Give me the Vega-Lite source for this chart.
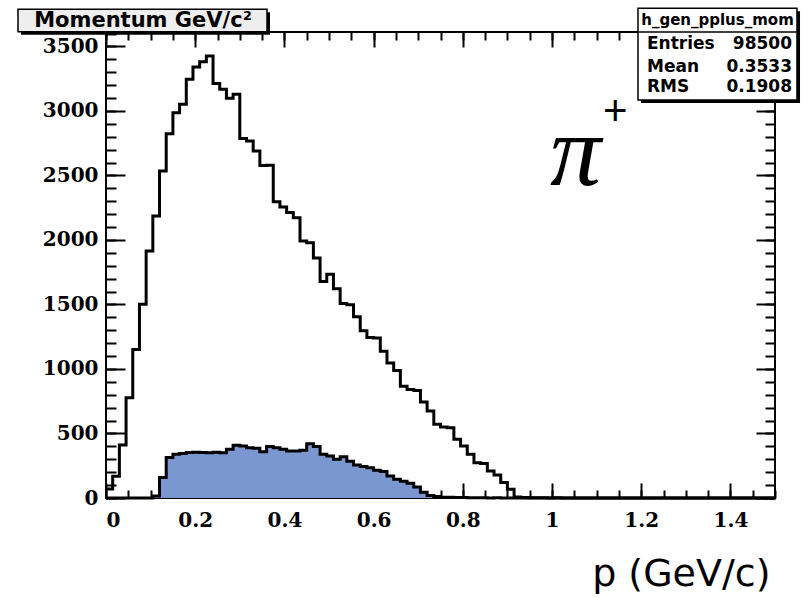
{
  "$schema": "https://vega.github.io/schema/vega-lite/v6.json",
  "autosize": "none",
  "width": 669,
  "height": 466,
  "padding": {"left": 106, "top": 32, "right": 28, "bottom": 100},
  "background": "white",
  "config": {
    "view": {"stroke": "black", "strokeWidth": 2},
    "axis": {
      "domain": false, "grid": false, "tickColor": "black", "tickWidth": 2,
      "labelFont": "DejaVu Serif", "labelFontWeight": "bold", "labelFontSize": 20, "labelColor": "black",
      "zindex": 1, "title": null
    }
  },
  "datasets": {
    "h": [
      {"lo": 0.000, "n": 70, "s": 0}, {"lo": 0.015, "n": 168, "s": 0}, {"lo": 0.030, "n": 410, "s": 0},
      {"lo": 0.045, "n": 778, "s": 0}, {"lo": 0.060, "n": 1152, "s": 0}, {"lo": 0.075, "n": 1501, "s": 0},
      {"lo": 0.090, "n": 1915, "s": 0}, {"lo": 0.105, "n": 2186, "s": 15}, {"lo": 0.120, "n": 2535, "s": 158},
      {"lo": 0.135, "n": 2824, "s": 313}, {"lo": 0.150, "n": 2987, "s": 339}, {"lo": 0.165, "n": 3052, "s": 345},
      {"lo": 0.180, "n": 3245, "s": 352}, {"lo": 0.195, "n": 3341, "s": 355}, {"lo": 0.210, "n": 3382, "s": 352},
      {"lo": 0.225, "n": 3426, "s": 350}, {"lo": 0.240, "n": 3212, "s": 355}, {"lo": 0.255, "n": 3168, "s": 351},
      {"lo": 0.270, "n": 3098, "s": 377}, {"lo": 0.285, "n": 3129, "s": 408}, {"lo": 0.300, "n": 2786, "s": 403},
      {"lo": 0.315, "n": 2767, "s": 390}, {"lo": 0.330, "n": 2690, "s": 385}, {"lo": 0.345, "n": 2577, "s": 359},
      {"lo": 0.360, "n": 2580, "s": 400}, {"lo": 0.375, "n": 2297, "s": 390}, {"lo": 0.390, "n": 2256, "s": 377},
      {"lo": 0.405, "n": 2212, "s": 364}, {"lo": 0.420, "n": 2173, "s": 364}, {"lo": 0.435, "n": 1992, "s": 370},
      {"lo": 0.450, "n": 1979, "s": 420}, {"lo": 0.465, "n": 1861, "s": 400}, {"lo": 0.480, "n": 1678, "s": 339},
      {"lo": 0.495, "n": 1735, "s": 325}, {"lo": 0.510, "n": 1622, "s": 300}, {"lo": 0.525, "n": 1508, "s": 320},
      {"lo": 0.540, "n": 1498, "s": 285}, {"lo": 0.555, "n": 1405, "s": 255}, {"lo": 0.570, "n": 1297, "s": 245},
      {"lo": 0.585, "n": 1245, "s": 235}, {"lo": 0.600, "n": 1240, "s": 215}, {"lo": 0.615, "n": 1137, "s": 205},
      {"lo": 0.630, "n": 1047, "s": 170}, {"lo": 0.645, "n": 988, "s": 145}, {"lo": 0.660, "n": 867, "s": 130},
      {"lo": 0.675, "n": 841, "s": 115}, {"lo": 0.690, "n": 833, "s": 85}, {"lo": 0.705, "n": 745, "s": 45},
      {"lo": 0.720, "n": 674, "s": 20}, {"lo": 0.735, "n": 571, "s": 12}, {"lo": 0.750, "n": 550, "s": 6},
      {"lo": 0.765, "n": 545, "s": 5}, {"lo": 0.780, "n": 455, "s": 4}, {"lo": 0.795, "n": 403, "s": 3},
      {"lo": 0.810, "n": 339, "s": 2}, {"lo": 0.825, "n": 274, "s": 2}, {"lo": 0.840, "n": 267, "s": 1},
      {"lo": 0.855, "n": 210, "s": 0}, {"lo": 0.870, "n": 179, "s": 1}, {"lo": 0.885, "n": 120, "s": 0},
      {"lo": 0.900, "n": 68, "s": 0}, {"lo": 0.915, "n": 8, "s": 0}, {"lo": 0.930, "n": 4, "s": 0},
      {"lo": 0.945, "n": 2, "s": 0}, {"lo": 0.960, "n": 1, "s": 0}, {"lo": 0.975, "n": 1, "s": 0},
      {"lo": 0.990, "n": 0, "s": 0}, {"lo": 1.005, "n": 1, "s": 0}, {"lo": 1.020, "n": 0, "s": 0},
      {"lo": 1.035, "n": 0, "s": 0}, {"lo": 1.050, "n": 0, "s": 0}, {"lo": 1.065, "n": 0, "s": 0},
      {"lo": 1.080, "n": 0, "s": 0}, {"lo": 1.095, "n": 0, "s": 0}, {"lo": 1.110, "n": 0, "s": 0},
      {"lo": 1.125, "n": 0, "s": 0}, {"lo": 1.140, "n": 0, "s": 0}, {"lo": 1.155, "n": 0, "s": 0},
      {"lo": 1.170, "n": 0, "s": 0}, {"lo": 1.185, "n": 0, "s": 0}, {"lo": 1.200, "n": 0, "s": 0},
      {"lo": 1.215, "n": 0, "s": 0}, {"lo": 1.230, "n": 0, "s": 0}, {"lo": 1.245, "n": 0, "s": 0},
      {"lo": 1.260, "n": 0, "s": 0}, {"lo": 1.275, "n": 0, "s": 0}, {"lo": 1.290, "n": 0, "s": 0},
      {"lo": 1.305, "n": 0, "s": 0}, {"lo": 1.320, "n": 0, "s": 0}, {"lo": 1.335, "n": 0, "s": 0},
      {"lo": 1.350, "n": 0, "s": 0}, {"lo": 1.365, "n": 0, "s": 0}, {"lo": 1.380, "n": 0, "s": 0},
      {"lo": 1.395, "n": 0, "s": 0}, {"lo": 1.410, "n": 0, "s": 0}, {"lo": 1.425, "n": 0, "s": 0},
      {"lo": 1.440, "n": 0, "s": 0}, {"lo": 1.455, "n": 0, "s": 0}, {"lo": 1.470, "n": 0, "s": 0},
      {"lo": 1.485, "n": 0, "s": 0}, {"lo": 1.500, "n": 0, "s": 0}
    ],
    "stats": [
      {"k": "Entries", "v": "98500", "row": 3517},
      {"k": "Mean", "v": "0.3533", "row": 3343},
      {"k": "RMS", "v": "0.1908", "row": 3183}
    ]
  },
  "resolve": {"axis": {"x": "independent", "y": "independent"}},
  "layer": [
    {
      "data": {"name": "h"},
      "mark": {"type": "area", "interpolate": "step-after", "color": "#7b97cf", "clip": false},
      "encoding": {
        "x": {"field": "lo", "type": "quantitative", "scale": {"domain": [0, 1.5], "nice": false, "zero": false},
              "axis": {"orient": "bottom", "values": [0,0.05,0.1,0.15,0.2,0.25,0.3,0.35,0.4,0.45,0.5,0.55,0.6,0.65,0.7,0.75,0.8,0.85,0.9,0.95,1,1.05,1.1,1.15,1.2,1.25,1.3,1.35,1.4,1.45,1.5], "labels": false, "tickSize": -8}},
        "y": {"field": "s", "type": "quantitative", "stack": null, "scale": {"domain": [0, 3612], "nice": false},
              "axis": {"orient": "left", "values": [0,100,200,300,400,500,600,700,800,900,1000,1100,1200,1300,1400,1500,1600,1700,1800,1900,2000,2100,2200,2300,2400,2500,2600,2700,2800,2900,3000,3100,3200,3300,3400,3500,3600], "labels": false, "tickSize": -10}}
      }
    },
    {
      "data": {"name": "h"},
      "mark": {"type": "line", "interpolate": "step-after", "color": "black", "strokeWidth": 3, "clip": false},
      "encoding": {
        "x": {"field": "lo", "type": "quantitative",
              "axis": {"orient": "top", "values": [0,0.2,0.4,0.6,0.8,1,1.2,1.4], "labels": false, "tickSize": -15}},
        "y": {"field": "s", "type": "quantitative",
              "axis": {"orient": "right", "values": [0,500,1000,1500,2000,2500,3000,3500], "labels": false, "tickSize": -19}}
      }
    },
    {
      "data": {"name": "h"},
      "mark": {"type": "line", "interpolate": "step-after", "color": "black", "strokeWidth": 3, "clip": false},
      "encoding": {
        "x": {"field": "lo", "type": "quantitative",
              "axis": {"orient": "bottom", "values": [0,0.2,0.4,0.6,0.8,1,1.2,1.4], "format": "~g", "tickSize": -15, "labelPadding": 27,
                       "title": "p (GeV/c)", "titleFont": "DejaVu Sans", "titleFontSize": 38, "titleFontWeight": "normal", "titleColor": "black",
                       "titleAnchor": "end", "titleAlign": "right", "titleBaseline": "alphabetic", "titleX": 664, "titleY": 87, "titleAngle": 0}},
        "y": {"field": "n", "type": "quantitative",
              "axis": {"orient": "left", "values": [0,500,1000,1500,2000,2500,3000,3500], "format": "d", "tickSize": -19, "labelPadding": 27}}
      }
    },
    {
      "data": {"name": "h"},
      "mark": {"type": "line", "interpolate": "step-after", "color": "black", "strokeWidth": 3, "strokeOpacity": 0, "clip": false},
      "encoding": {
        "x": {"field": "lo", "type": "quantitative",
              "axis": {"orient": "top", "values": [0,0.05,0.1,0.15,0.2,0.25,0.3,0.35,0.4,0.45,0.5,0.55,0.6,0.65,0.7,0.75,0.8,0.85,0.9,0.95,1,1.05,1.1,1.15,1.2,1.25,1.3,1.35,1.4,1.45,1.5], "labels": false, "tickSize": -8}},
        "y": {"field": "n", "type": "quantitative",
              "axis": {"orient": "right", "values": [0,100,200,300,400,500,600,700,800,900,1000,1100,1200,1300,1400,1500,1600,1700,1800,1900,2000,2100,2200,2300,2400,2500,2600,2700,2800,2900,3000,3100,3200,3300,3400,3500,3600], "labels": false, "tickSize": -10}}
      }
    },
    {
      "data": {"values": [{}]},
      "mark": {"type": "rect", "color": "black", "clip": false},
      "encoding": {
        "x": {"datum": -0.1906, "type": "quantitative", "axis": null}, "x2": {"datum": 0.3677},
        "y": {"datum": 3765, "type": "quantitative", "axis": null}, "y2": {"datum": 3591}
      }
    },
    {
      "data": {"values": [{}]},
      "mark": {"type": "rect", "fill": "#eeeeee", "stroke": "black", "strokeWidth": 1.5, "clip": false},
      "encoding": {
        "x": {"datum": -0.1973, "type": "quantitative", "axis": null}, "x2": {"datum": 0.3610},
        "y": {"datum": 3788, "type": "quantitative", "axis": null}, "y2": {"datum": 3614}
      }
    },
    {
      "data": {"values": [{}]},
      "mark": {"type": "text", "text": "Momentum GeV/c²", "font": "DejaVu Sans", "fontWeight": "bold", "fontSize": 21, "color": "black", "align": "center", "baseline": "middle"},
      "encoding": {
        "x": {"datum": 0.0830, "type": "quantitative", "axis": null},
        "y": {"datum": 3701, "type": "quantitative", "axis": null}
      }
    },
    {
      "data": {"values": [{}]},
      "mark": {"type": "rect", "color": "black", "clip": false},
      "encoding": {
        "x": {"datum": 1.1996, "type": "quantitative", "axis": null}, "x2": {"datum": 1.5561},
        "y": {"datum": 3773, "type": "quantitative", "axis": null}, "y2": {"datum": 3062}
      }
    },
    {
      "data": {"values": [{}]},
      "mark": {"type": "rect", "fill": "white", "stroke": "black", "strokeWidth": 1.5, "clip": false},
      "encoding": {
        "x": {"datum": 1.1928, "type": "quantitative", "axis": null}, "x2": {"datum": 1.5493},
        "y": {"datum": 3796, "type": "quantitative", "axis": null}, "y2": {"datum": 3085}
      }
    },
    {
      "data": {"values": [{}]},
      "mark": {"type": "rule", "color": "black", "strokeWidth": 1.5, "clip": false},
      "encoding": {
        "x": {"datum": 1.1928, "type": "quantitative", "axis": null}, "x2": {"datum": 1.5493},
        "y": {"datum": 3612, "type": "quantitative", "axis": null}
      }
    },
    {
      "data": {"values": [{}]},
      "mark": {"type": "text", "text": "h_gen_pplus_mom", "font": "DejaVu Sans", "fontWeight": "bold", "fontSize": 15, "color": "black", "align": "center", "baseline": "middle"},
      "encoding": {
        "x": {"datum": 1.3711, "type": "quantitative", "axis": null},
        "y": {"datum": 3705, "type": "quantitative", "axis": null}
      }
    },
    {
      "data": {"name": "stats"},
      "mark": {"type": "text", "font": "DejaVu Sans", "fontWeight": "bold", "fontSize": 17, "color": "black", "align": "left", "baseline": "middle"},
      "encoding": {
        "x": {"datum": 1.2130, "type": "quantitative", "axis": null},
        "y": {"field": "row", "type": "quantitative", "axis": null},
        "text": {"field": "k"}
      }
    },
    {
      "data": {"name": "stats"},
      "mark": {"type": "text", "font": "DejaVu Sans", "fontWeight": "bold", "fontSize": 17, "color": "black", "align": "right", "baseline": "middle"},
      "encoding": {
        "x": {"datum": 1.5381, "type": "quantitative", "axis": null},
        "y": {"field": "row", "type": "quantitative", "axis": null},
        "text": {"field": "v"}
      }
    },
    {
      "data": {"values": [{}]},
      "mark": {"type": "text", "text": "π", "font": "Liberation Serif", "fontStyle": "italic", "fontSize": 102, "color": "black", "align": "center", "baseline": "alphabetic"},
      "encoding": {
        "x": {"datum": 1.0530, "type": "quantitative", "axis": null},
        "y": {"datum": 2426, "type": "quantitative", "axis": null}
      }
    },
    {
      "data": {"values": [{}]},
      "mark": {"type": "text", "text": "+", "font": "Liberation Sans", "fontSize": 42, "color": "black", "align": "center", "baseline": "middle"},
      "encoding": {
        "x": {"datum": 1.1420, "type": "quantitative", "axis": null},
        "y": {"datum": 2992, "type": "quantitative", "axis": null}
      }
    }
  ]
}
